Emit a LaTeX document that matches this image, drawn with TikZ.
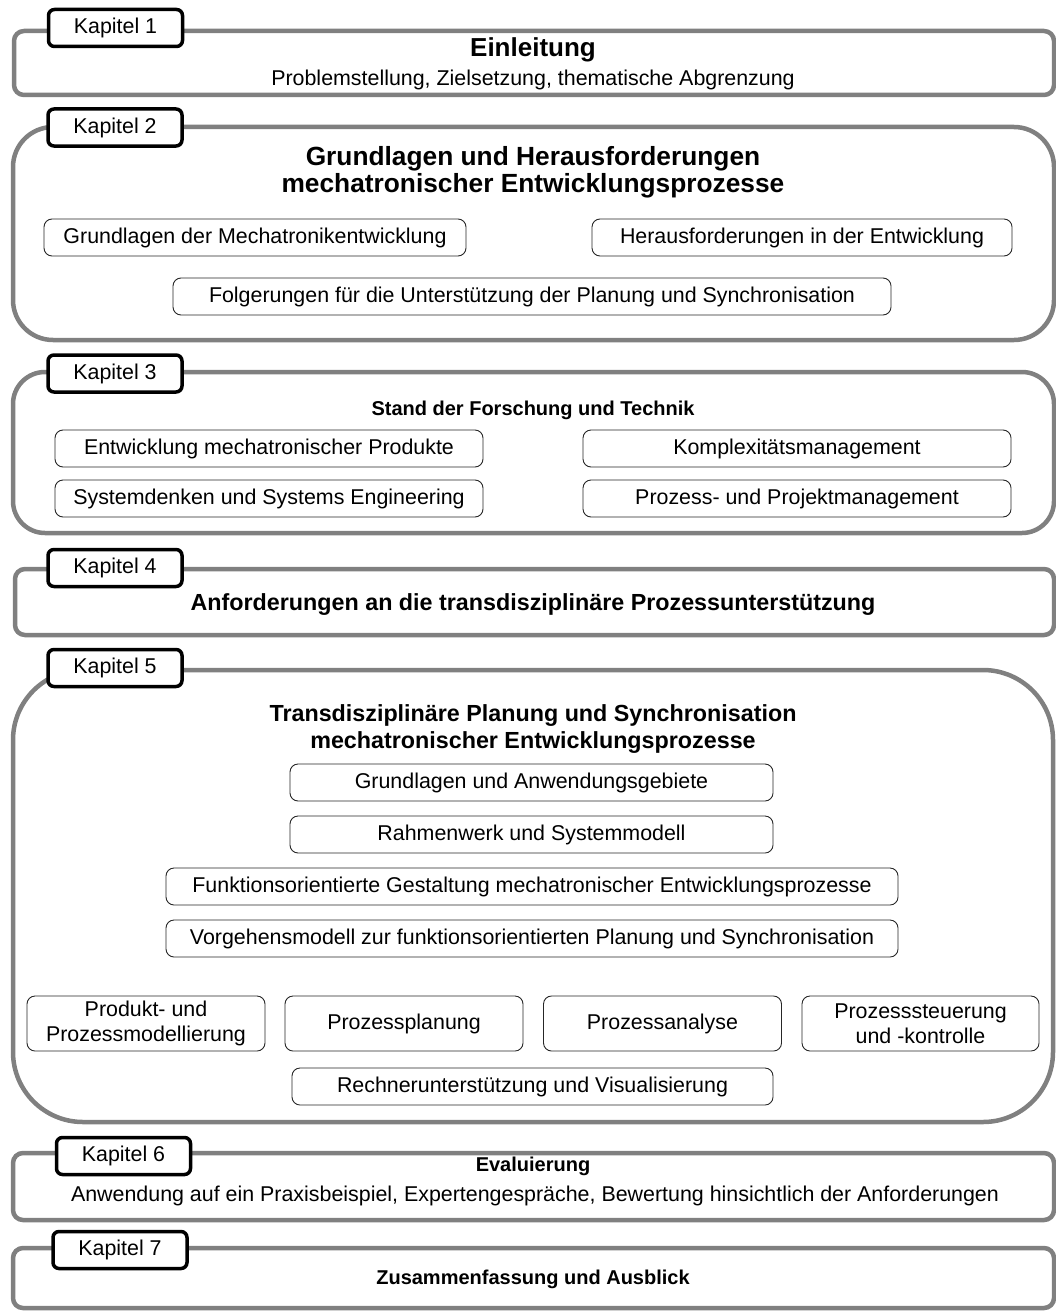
\documentclass[tikz,border=0pt]{standalone}
\usepackage{fontspec}
\setmainfont{Liberation Sans}
\definecolor{chapgray}{HTML}{808080}
\begin{document}
\begin{tikzpicture}[x=1pt,y=-1pt,
  every node/.style={font=\fontsize{21.4}{26}\selectfont, text=black},
  chapbox/.style={draw=chapgray, line width=4.5pt, rounded corners=#1, inner sep=0pt, outer sep=0pt},
  tab/.style={draw=black, fill=white, line width=3.5pt, rounded corners=6pt, minimum width=134, minimum height=37, inner sep=0pt},
  sub/.style={draw=black!85, line width=0.9pt, rounded corners=8pt, minimum height=37, inner sep=0pt, align=center},
  title/.style={font=\fontsize{#1}{27}\selectfont\bfseries, align=center, inner sep=0pt},
  title/.default=23.3,
  plain/.style={align=center, inner sep=0pt}]
\useasboundingbox (0,0) rectangle (1056,1311);

% chapter frames
\node[chapbox=10, minimum width=1040, minimum height=64]  (c1) at (534,63) {};
\node[chapbox=40, minimum width=1041, minimum height=213] (c2) at (533.5,233.5) {};
\node[chapbox=32, minimum width=1041, minimum height=161] (c3) at (533.5,452.5) {};
\node[chapbox=10, minimum width=1039, minimum height=66]  (c4) at (534.5,602) {};
\node[chapbox=70, minimum width=1040, minimum height=452] (c5) at (533,896) {};
\node[chapbox=10, minimum width=1041, minimum height=67]  (c6) at (533.5,1186.5) {};
\node[chapbox=10, minimum width=1041, minimum height=60]  (c7) at (533.5,1278) {};

% chapter tabs
\node[tab] (k1) at (115.5,28)   {Kapitel 1};
\node[tab] (k2) at (115,127.5)  {Kapitel 2};
\node[tab] (k3) at (115,373.5)  {Kapitel 3};
\node[tab] (k4) at (115,568)    {Kapitel 4};
\node[tab] (k5) at (115,668)    {Kapitel 5};
\node[tab] (k6) at (123.5,1156) {Kapitel 6};
\node[tab] (k7) at (120,1250)   {Kapitel 7};

% chapter 1
\node[title=26] (t1) at (533,50) {Einleitung};
\node[plain] (s1) at (533,80) {Problemstellung, Zielsetzung, thematische Abgrenzung};

% chapter 2
\node[title=26.3] (t2) at (533,172) {Grundlagen und Herausforderungen\\mechatronischer Entwicklungsprozesse};
\node[sub, minimum width=422] (b21) at (255,237.5) {Grundlagen der Mechatronikentwicklung};
\node[sub, minimum width=420] (b22) at (802,237.5) {Herausforderungen in der Entwicklung};
\node[sub, minimum width=718] (b23) at (532,296.5) {Folgerungen für die Unterstützung der Planung und Synchronisation};

% chapter 3
\node[title=20] (t3) at (533,410) {Stand der Forschung und Technik};
\node[sub, minimum width=428] (b31) at (269,448.5) {Entwicklung mechatronischer Produkte};
\node[sub, minimum width=428] (b32) at (269,498.5) {Systemdenken und Systems Engineering};
\node[sub, minimum width=428] (b33) at (797,448.5) {Komplexitätsmanagement};
\node[sub, minimum width=428] (b34) at (797,498.5) {Prozess- und Projektmanagement};

% chapter 4
\node[title] (t4) at (533,605) {Anforderungen an die transdisziplinäre Prozessunterstützung};

% chapter 5
\node[title] (t5) at (533,729) {Transdisziplinäre Planung und Synchronisation\\mechatronischer Entwicklungsprozesse};
\node[sub, minimum width=483] (b51) at (531.5,782.5) {Grundlagen und Anwendungsgebiete};
\node[sub, minimum width=483] (b52) at (531.5,834.5) {Rahmenwerk und Systemmodell};
\node[sub, minimum width=732] (b53) at (532,886.5) {Funktionsorientierte Gestaltung mechatronischer Entwicklungsprozesse};
\node[sub, minimum width=732] (b54) at (532,938.5) {Vorgehensmodell zur funktionsorientierten Planung und Synchronisation};
\node[sub, minimum width=238, minimum height=55, font=\fontsize{21.4}{25}\selectfont] (b55) at (146,1023.5) {Produkt- und\\Prozessmodellierung};
\node[sub, minimum width=238, minimum height=55] (b56) at (404,1023.5) {Prozessplanung};
\node[sub, minimum width=238, minimum height=55] (b57) at (662.5,1023.5) {Prozessanalyse};
\node[sub, minimum width=237, minimum height=55, font=\fontsize{21.4}{25}\selectfont] (b58) at (920.5,1023.5) {Prozesssteuerung\\und -kontrolle};
\node[sub, minimum width=481] (b59) at (532.5,1086.5) {Rechnerunterstützung und Visualisierung};

% chapter 6
\node[title=20] (t6) at (533,1166) {Evaluierung};
\node[plain] (s6) at (535,1196) {Anwendung auf ein Praxisbeispiel, Expertengespräche, Bewertung hinsichtlich der Anforderungen};

% chapter 7
\node[title=20] (t7) at (533,1279) {Zusammenfassung und Ausblick};
\end{tikzpicture}
\end{document}
